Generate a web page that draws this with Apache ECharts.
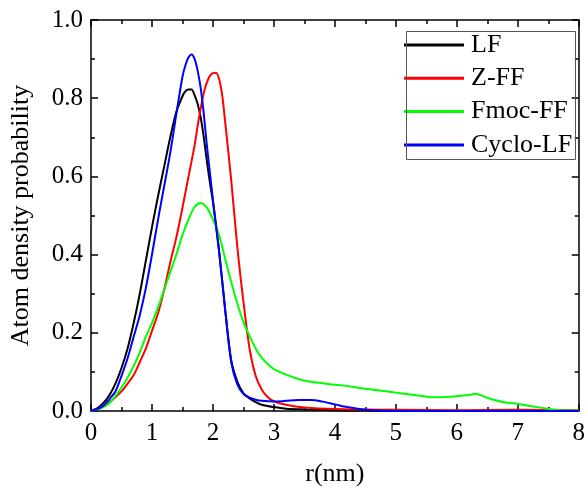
<!DOCTYPE html>
<html>
<head>
<meta charset="utf-8">
<script src="https://cdn.jsdelivr.net/npm/echarts@6/dist/echarts.min.js"></script>
<style>html,body{margin:0;padding:0;background:#fff}#c{width:588px;height:492px}</style>
</head>
<body>
<div id="c"></div>
<script>
var seriesNames = ['LF', 'Z-FF', 'Fmoc-FF', 'Cyclo-LF'];
var xTicks = [0, 1, 2, 3, 4, 5, 6, 7, 8];
var yTicks = [0.0, 0.2, 0.4, 0.6, 0.8, 1.0];

var lfX = [0,0.1,0.2,0.3,0.4,0.5,0.6,0.7,0.8,0.9,1.0,1.1,1.2,1.3,1.4,1.5,1.55,1.6,1.65,1.7,1.75,1.8,1.85,1.9,1.95,2.0,2.1,2.2,2.3,2.4,2.5,2.6,2.7,2.8,3.0,3.2,3.5,4.0,4.5,5,6,7,8];
var lfY = [0,0.007,0.02,0.04,0.07,0.11,0.16,0.225,0.30,0.385,0.47,0.55,0.625,0.70,0.765,0.805,0.818,0.822,0.822,0.807,0.785,0.75,0.70,0.64,0.585,0.535,0.41,0.26,0.13,0.075,0.045,0.032,0.023,0.016,0.01,0.006,0.004,0.002,0.001,0,0,0,0];

var zffX = [0,0.1,0.2,0.3,0.4,0.5,0.6,0.7,0.8,0.9,1.0,1.1,1.2,1.3,1.4,1.5,1.6,1.7,1.75,1.8,1.86,1.9,1.95,2.0,2.05,2.1,2.15,2.2,2.3,2.4,2.5,2.6,2.7,2.8,2.9,3.0,3.2,3.5,4,5,6,7,8];
var zffY = [0.002,0.005,0.012,0.022,0.035,0.05,0.07,0.092,0.125,0.16,0.205,0.25,0.31,0.38,0.444,0.52,0.60,0.68,0.73,0.775,0.82,0.84,0.857,0.864,0.865,0.85,0.81,0.74,0.59,0.42,0.28,0.16,0.09,0.055,0.035,0.025,0.016,0.009,0.005,0.003,0.002,0.003,0.002];

var fmocX = [0,0.1,0.2,0.3,0.4,0.5,0.6,0.7,0.8,0.9,1.0,1.1,1.2,1.3,1.4,1.5,1.6,1.7,1.8,1.9,2.0,2.1,2.2,2.3,2.4,2.5,2.6,2.7,2.8,2.9,3.0,3.2,3.4,3.6,3.8,4.0,4.2,4.4,4.6,4.8,5.0,5.2,5.4,5.6,5.8,6.0,6.2,6.3,6.4,6.5,6.6,6.8,7.0,7.2,7.4,7.6,7.8,8.0];
var fmocY = [0,0.004,0.01,0.02,0.038,0.06,0.085,0.115,0.15,0.19,0.225,0.265,0.31,0.355,0.40,0.45,0.49,0.522,0.532,0.52,0.49,0.45,0.39,0.33,0.275,0.228,0.192,0.16,0.136,0.12,0.107,0.093,0.082,0.075,0.071,0.067,0.064,0.059,0.055,0.051,0.047,0.043,0.039,0.035,0.036,0.038,0.041,0.044,0.040,0.034,0.029,0.022,0.018,0.013,0.008,0.003,0.001,0.001];

var cycX = [0,0.1,0.2,0.3,0.4,0.5,0.6,0.7,0.8,0.9,1.0,1.1,1.2,1.3,1.4,1.5,1.55,1.6,1.65,1.7,1.75,1.8,1.85,1.9,1.95,2.0,2.1,2.2,2.3,2.4,2.5,2.6,2.7,2.8,3.0,3.2,3.4,3.6,3.8,4.0,4.2,4.4,4.6,5,6,7,8];
var cycY = [0,0.005,0.013,0.03,0.05,0.09,0.135,0.19,0.245,0.315,0.40,0.49,0.575,0.66,0.76,0.855,0.885,0.905,0.912,0.90,0.87,0.825,0.76,0.68,0.61,0.54,0.41,0.26,0.125,0.068,0.044,0.034,0.029,0.026,0.024,0.026,0.028,0.028,0.024,0.017,0.01,0.005,0.002,0,0,0,0];

var colors = ['#000000', '#ff0000', '#00ff00', '#0000ff'];
var xs = [lfX, zffX, fmocX, cycX];
var ys = [lfY, zffY, fmocY, cycY];

function pairs(x, y) { return x.map(function (v, i) { return [v, y[i]]; }); }

var FONT = "'Liberation Serif','Times New Roman',serif";
var chart = echarts.init(document.getElementById('c'), null, {renderer: 'canvas'});

var axisLine = {show: true, onZero: false, lineStyle: {color: '#000', width: 1.5}};
var axisTick = {show: true, inside: true, length: 7, lineStyle: {color: '#000', width: 1.5}};
var minorTick = {show: true, splitNumber: 2, length: 4, lineStyle: {color: '#000', width: 1.5}};

var option = {
  animation: false,
  backgroundColor: '#fff',
  grid: {left: 88, right: 5, top: 20, bottom: 76, containLabel: false},
  graphic: [{
    type: 'rect', left: 404, top: 29, z: 100,
    shape: {width: 169, height: 128},
    style: {fill: 'none', stroke: '#555', lineWidth: 1}
  }],
  legend: {
    data: seriesNames,
    orient: 'vertical',
    left: 404,
    top: 32,
    padding: 0,
    itemGap: 7.3,
    itemWidth: 60,
    itemHeight: 3,
    icon: 'rect',
    borderWidth: 0,
    textStyle: {fontFamily: FONT, fontSize: 26, color: '#000', lineHeight: 25, padding: [0, 0, 0, 2]}
  },
  xAxis: [{
    type: 'value', min: 0, max: 8, interval: 1, position: 'bottom',
    name: 'r(nm)', nameLocation: 'middle', nameGap: 50,
    nameTextStyle: {fontFamily: FONT, fontSize: 26, color: '#000'},
    axisLine: axisLine, axisTick: axisTick, minorTick: minorTick,
    axisLabel: {fontFamily: FONT, fontSize: 25, color: '#000', margin: 10,
      formatter: function (v) { return xTicks.indexOf(v) >= 0 ? String(v) : ''; }},
    splitLine: {show: false}
  }, {
    type: 'value', min: 0, max: 8, interval: 1, position: 'top',
    axisLine: axisLine, axisTick: axisTick, minorTick: minorTick,
    axisLabel: {show: false}, splitLine: {show: false}
  }],
  yAxis: [{
    type: 'value', min: 0, max: 1, interval: 0.2, position: 'left',
    name: 'Atom density probability', nameLocation: 'middle', nameGap: 57,
    nameTextStyle: {fontFamily: FONT, fontSize: 26, color: '#000'},
    axisLine: axisLine, axisTick: axisTick, minorTick: minorTick,
    axisLabel: {fontFamily: FONT, fontSize: 25, color: '#000', margin: 8,
      formatter: function (v) { return v.toFixed(1); }},
    splitLine: {show: false}
  }, {
    type: 'value', min: 0, max: 1, interval: 0.2, position: 'right',
    axisLine: axisLine, axisTick: axisTick, minorTick: minorTick,
    axisLabel: {show: false}, splitLine: {show: false}
  }],
  series: seriesNames.map(function (n, i) {
    return {
      name: n, type: 'line', xAxisIndex: 0, yAxisIndex: 0,
      data: pairs(xs[i], ys[i]),
      showSymbol: false, smooth: 0.3,
      color: colors[i],
      lineStyle: {color: colors[i], width: 2}
    };
  })
};
chart.setOption(option);
</script>
</body>
</html>
